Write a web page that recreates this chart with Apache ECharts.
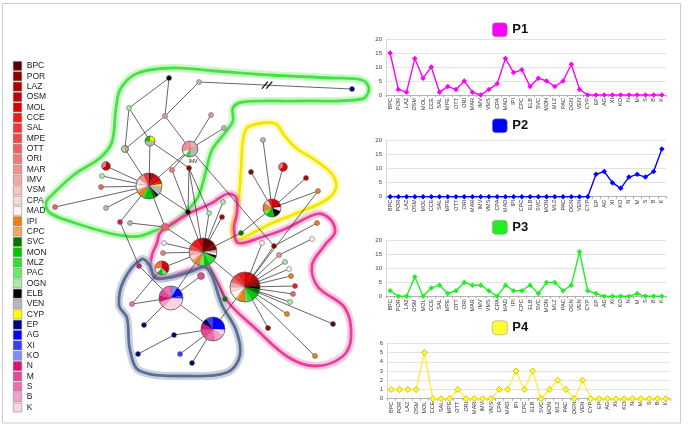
<!DOCTYPE html>
<html><head><meta charset="utf-8">
<script src="https://cdn.jsdelivr.net/npm/echarts@6/dist/echarts.min.js"></script>
<style>html,body{margin:0;padding:0;background:#fff}#c{width:688px;height:431px}</style>
</head><body><div id="c"></div>
<script>
// ---------- DATA ----------
const categories = ['BPC','POR','LAZ','OSM','MOL','CCE','SAL','MPE','OTT','ORI','MAR','IMV','VMS','CPA','MAD','IPI','CPC','ELB','SVC','MON','MLZ','PAC','OGN','VEN','CYP','EP','AG','XI','KO','N','M','S','B','K'];
const legendNames = ['BPC','POR','LAZ','OSM','MOL','CCE','SAL','MPE','OTT','ORI','MAR','IMV','VSM','CPA','MAD','IPI','CPC','SVC','MON','MLZ','PAC','OGN','ELB','VEN','CYP','EP','AG','XI','KO','N','M','S','B','K'];
const p1 = [15,2,1,13,6,10,1,3,2,5,1,0,2,4,13,8,9,3,6,5,3,5,11,2,0,0,0,0,0,0,0,0,0,0];
const p2 = [0,0,0,0,0,0,0,0,0,0,0,0,0,0,0,0,0,0,0,0,0,0,0,0,0,8,9,5,3,7,8,7,9,17];
const p3 = [2,0,0,7,0,3,4,1,2,5,4,4,2,0,4,2,2,4,1,5,5,2,4,16,2,1,0,0,0,0,1,0,0,0];
const p4 = [1,1,1,1,5,0,0,0,1,0,0,0,0,1,1,3,1,3,0,1,2,1,0,2,0,0,0,0,0,0,0,0,0,0];
const ticks14 = [0,5,10,15,20];
const ticks4 = [0,1,2,3,4,5,6];

// network: layout coordinates and haplotype composition (sample counts)
const nodeX = [169,199,352,129,165,211,224,150,190,125,263,283,251,306,318,106,102,101,149,172,189,55,106,188,223,209,222,272,120,130,165,241,317,312,203,164,163,162,139,201,171,132,144,174,138,180,192,213,225,245,262,274,279,285,289,291,295,293,290,287,268,333,315];
const nodeY = [78,82,89,108,116,115,128,141,149,149,140,167,172,178,191,166,176,187,186,170,168,207,208,212,202,213,217,208,222,223,227,233,223,239,252,243,253,268,266,276,298,304,325,335,354,354,363,329,299,287,243,246,255,262,269,276,286,294,302,314,328,324,356];
const nodeMix = [
  [['ELB',1]],[['VEN',1]],[['EP',1]],[['OGN',1]],[['MAR',1]],[['MAR',1]],[['VEN',1]],
  [['CYP',1],['VEN',2],['MON',1]],
  [['IMV',2],['VEN',3],['MLZ',1],['MAD',1],['MAR',3]],
  [['MAR',1],['OGN',1]],
  [['VEN',1]],
  [['MOL',2],['ORI',1]],
  [['POR',1]],[['LAZ',1]],[['IPI',1]],
  [['OSM',2],['ORI',1]],
  [['OGN',1]],[['OTT',1]],
  [['BPC',1],['LAZ',1],['OSM',1],['MOL',2],['CCE',1],['CYP',1],['VEN',3],['ELB',1],['SVC',1],['MON',3],['MLZ',1],['IPI',2],['CPC',1],['MAD',2],['CPA',2],['MAR',2],['SAL',2]],
  [['ORI',1]],[['POR',1]],[['OTT',1]],[['VEN',1]],[['ELB',1]],[['OGN',1]],[['OGN',1]],[['LAZ',1]],
  [['MOL',2],['LAZ',1],['MAD',1],['ELB',2],['MON',2],['PAC',1],['IPI',2],['CPA',1],['CCE',1]],
  [['N',1]],[['VEN',1]],[['OTT',2]],[['SVC',1]],[['IPI',1]],[['MAD',1]],
  [['BPC',5],['POR',2],['VEN',1],['MAD',1],['ELB',1],['MLZ',3],['MON',2],['PAC',2],['IPI',2],['CPC',1],['CPA',2],['IMV',2],['MPE',2],['CCE',3],['MOL',2]],
  [['MAD',1]],[['ORI',1]],
  [['MOL',2],['OSM',1],['PAC',1],['MON',1],['MAD',1],['IPI',1],['OTT',1]],
  [['N',1]],[['M',2]],
  [['KO',2],['AG',3],['XI',1],['K',8],['B',2],['N',2],['M',2],['S',3]],
  [['S',1]],[['EP',1]],[['EP',1]],[['EP',1]],[['XI',1]],[['EP',1]],
  [['AG',6],['K',2],['B',3],['S',3],['M',3],['N',2],['EP',2],['XI',2]],
  [['SVC',1]],
  [['MOL',3],['OSM',2],['LAZ',2],['POR',1],['BPC',1],['ELB',1],['SVC',2],['MON',3],['MLZ',2],['PAC',1],['IPI',3],['CPC',1],['MAD',3],['CPA',2],['IMV',2],['OTT',2],['SAL',2],['CCE',3]],
  [['MAD',1]],[['POR',1]],[['MAR',1]],[['OGN',1]],[['MAD',1]],[['IPI',1]],[['CCE',1]],[['OTT',1]],[['OGN',1]],[['IPI',1]],[['POR',1]],[['BPC',1]],[['IPI',1]]
];
const nodeLabel = {8:'IMV'};
const edges = [[1,2],[0,3],[0,4],[1,4],[3,9],[3,7],[4,9],[4,8],[8,5],[8,6],[9,18],[7,18],[8,18],[7,20],[8,51],[51,49],
  [18,15],[18,16],[18,17],[18,21],[18,22],[18,23],[18,30],[18,28],[28,38],[29,30],[19,23],[19,8],[20,23],[20,25],[20,34],
  [30,34],[34,35],[34,36],[34,37],[34,23],[34,24],[34,25],[34,26],[34,31],[31,27],[34,49],[34,48],[34,40],[39,40],[37,41],[40,41],[38,40],[40,42],[40,47],[44,43],[43,47],[45,47],[46,47],[47,49],
  [27,10],[27,11],[27,12],[27,13],[27,14],[14,49],
  [49,50],[49,52],[49,53],[49,54],[49,55],[49,56],[49,57],[49,58],[49,59],[49,60],[49,61],[49,62],[51,32],[52,33]];
const brokenEdges = [0];
const hullGreen = [[172,68],[215,71],[270,75],[330,78],[362,80],[369,89],[362,99],[300,101],[243,102],[233,108],[233,121],[224,134],[212,150],[205,175],[198,197],[186,212],[172,225],[157,230],[140,236],[125,236],[105,232],[75,223],[50,213],[46,203],[53,194],[75,174],[100,158],[112,142],[116,108],[121,88],[138,73]];
const hullYellow = [[247,128],[262,123],[276,124],[284,135],[296,148],[315,160],[332,174],[336,188],[326,200],[300,212],[270,224],[245,237],[236,240],[232,230],[238,205],[241,170],[243,140]];
const hullPink = [[157,243],[160,233],[173,223],[190,213],[212,203],[227,194],[236,197],[237,213],[234,228],[238,243],[262,237],[285,229],[317,214],[330,219],[335,232],[325,245],[312,265],[318,287],[345,308],[351,338],[342,357],[315,366],[288,357],[255,328],[228,302],[214,275],[207,267],[190,270],[173,276],[160,278],[151,270],[152,255]];
const hullBlue = [[142,259],[150,266],[155,278],[172,277],[190,272],[205,267],[212,276],[222,305],[236,330],[240,355],[228,372],[190,376],[140,371],[130,350],[127,318],[119,305],[124,280]];

// ---------- STYLES ----------
const colors = {BPC:'#600000',POR:'#8b0000',LAZ:'#aa0000',OSM:'#c40000',MOL:'#dc0000',CCE:'#ee1a1a',SAL:'#f03636',MPE:'#f04a4a',OTT:'#f06262',ORI:'#f07a7a',MAR:'#f29292',IMV:'#f5a9a9',VSM:'#f8c3c3',CPA:'#fbd8d8',MAD:'#fef3f3',IPI:'#f07e10',CPC:'#f7a85e',SVC:'#007800',MON:'#00c800',MLZ:'#30e030',PAC:'#66ec66',OGN:'#a4efa4',ELB:'#000000',VEN:'#b8b8b8',CYP:'#ffff00',EP:'#000080',AG:'#0000ff',XI:'#3c3cff',KO:'#8888ff',N:'#e0106e',M:'#e8489a',S:'#f06cb0',B:'#f5a0cb',K:'#fad3e6'};
const hullStyles = [['#48e048','rgba(120,240,110,0.4)'],['#f4e600','rgba(255,245,110,0.5)'],['#ec3c98','rgba(240,140,195,0.45)'],['#5a6e94','rgba(150,165,195,0.5)']];
const hulls = [hullGreen, hullYellow, hullPink, hullBlue];

// ---------- RENDERERS ----------
function renderHull(params, api) {
  const pts = hulls[api.value(2)].map(p => api.coord(p));
  const st = hullStyles[api.value(2)];
  return {type:'group', children:[
    {type:'polygon', shape:{points:pts, smooth:0.35}, style:{fill:'none', stroke:st[1], lineWidth:8}},
    {type:'polygon', shape:{points:pts, smooth:0.35}, style:{fill:'none', stroke:st[0], lineWidth:2.8}}
  ]};
}
function renderEdge(params, api) {
  const a = api.coord([api.value(0), api.value(1)]);
  const b = api.coord([api.value(2), api.value(3)]);
  const ch = [{type:'line', shape:{x1:a[0],y1:a[1],x2:b[0],y2:b[1]}, style:{stroke:'#333', lineWidth:0.75}}];
  if (api.value(4)) {
    const t = 0.445, mx = a[0]+(b[0]-a[0])*t, my = a[1]+(b[1]-a[1])*t;
    [-2.2, 2.2].forEach(d => ch.push({type:'line', shape:{x1:mx+d-3,y1:my+3.5,x2:mx+d+3,y2:my-3.5}, style:{stroke:'#111', lineWidth:1.3}}));
  }
  return {type:'group', children:ch};
}
function renderNode(params, api) {
  const idx = api.value(2);
  const p = api.coord([api.value(0), api.value(1)]);
  const mix = nodeMix[idx];
  const total = mix.reduce((s,m)=>s+m[1],0);
  const r = 2.5*Math.sqrt(total);
  const ch = [];
  if (mix.length === 1) {
    ch.push({type:'circle', shape:{cx:p[0],cy:p[1],r:r}, style:{fill:colors[mix[0][0]], stroke:'#666', lineWidth:0.6}});
  } else {
    let a0 = -Math.PI/2;
    mix.forEach(([k,v]) => {
      const a1 = a0 + v/total*Math.PI*2;
      ch.push({type:'sector', shape:{cx:p[0],cy:p[1],r:r,r0:0,startAngle:a0,endAngle:a1,clockwise:true}, style:{fill:colors[k], stroke:'rgba(70,70,70,0.45)', lineWidth:0.3}});
      a0 = a1;
    });
    ch.push({type:'circle', shape:{cx:p[0],cy:p[1],r:r}, style:{fill:'none', stroke:'#555', lineWidth:0.7}});
  }
  if (nodeLabel[idx]) ch.push({type:'text', x:p[0]+3, y:p[1]+r+2, style:{text:nodeLabel[idx], fontSize:5, fill:'#222', align:'center', verticalAlign:'top', fontFamily:'Liberation Sans'}});
  return {type:'group', children:ch};
}

// ---------- CHART ----------
const lineGrids = [
  {left:386, top:39, width:280, height:56},
  {left:386, top:140.7, width:280, height:56},
  {left:386, top:240.7, width:280, height:55.6},
  {left:387, top:343.3, width:283, height:55.4}
];
const pNames = ['P1','P2','P3','P4'];
const pData = [p1,p2,p3,p4];
const pColors = ['#ff00ff','#0000ff','#22ee22','#ffff33'];
const pTicks = [ticks14,ticks14,ticks14,ticks4];
const legendTops = [22.5,118.5,220,320.5];

const option = {
  animation:false,
  backgroundColor:'#fff',
  graphic:[{type:'rect', shape:{x:2.5,y:3.5,width:678,height:419.5}, style:{fill:'none', stroke:'#c6cbd4', lineWidth:1}, z:100}],
  grid:[{left:0, top:0, width:688, height:431}].concat(lineGrids),
  xAxis:[{gridIndex:0, type:'value', min:0, max:688, show:false}].concat(lineGrids.map((g,i)=>({
    gridIndex:i+1, type:'category', data:categories, boundaryGap:true,
    axisLine:{lineStyle:{color:'#a8a8a8', width:0.8}},
    axisTick:{show:true, length:2, lineStyle:{color:'#a8a8a8'}},
    axisLabel:{rotate:90, interval:0, fontSize:5.5, color:'#333', margin:3, fontFamily:'Liberation Sans'}
  }))),
  yAxis:[{gridIndex:0, type:'value', min:0, max:431, inverse:true, show:false}].concat(lineGrids.map((g,i)=>{
    const t = pTicks[i];
    return {gridIndex:i+1, type:'value', min:t[0], max:t[t.length-1], interval:t[1]-t[0],
      axisLine:{show:true, lineStyle:{color:'#cfcfcf', width:0.8}}, axisTick:{show:false},
      splitLine:{lineStyle:{color:'#dadada', width:0.8}},
      axisLabel:{fontSize:6, color:'#444', margin:4, fontFamily:'Liberation Sans'}};
  })),
  legend:[{
    orient:'vertical', left:13, top:61.2, itemWidth:8.5, itemHeight:9, itemGap:0.85, padding:0,
    selectedMode:false, icon:'rect',
    itemStyle:{borderColor:'#777', borderWidth:0.5, opacity:1},
    textStyle:{fontSize:8.5, lineHeight:9, color:'#222', fontFamily:'Liberation Sans'},
    data:legendNames
  }].concat(pNames.map((n,i)=>({
    left:492, top:legendTops[i], padding:0, itemWidth:15, itemHeight:14, icon:'roundRect', selectedMode:false,
    itemStyle:{borderColor:'#999', borderWidth:0.6},
    textStyle:{fontSize:13, fontWeight:'bold', color:'#111', fontFamily:'Liberation Sans'},
    data:[n]
  }))),
  series:[
    {type:'custom', name:'hulls', xAxisIndex:0, yAxisIndex:0, z:1, silent:true, renderItem:renderHull,
      data:hulls.map((h,i)=>[h[0][0],h[0][1],i])},
    {type:'custom', name:'edges', xAxisIndex:0, yAxisIndex:0, z:2, silent:true, renderItem:renderEdge,
      data:edges.map((e,i)=>[nodeX[e[0]],nodeY[e[0]],nodeX[e[1]],nodeY[e[1]],brokenEdges.includes(i)?1:0])},
    {type:'custom', name:'nodes', xAxisIndex:0, yAxisIndex:0, z:3, silent:true, renderItem:renderNode,
      data:nodeX.map((x,i)=>[x,nodeY[i],i])}
  ].concat(legendNames.map(n=>({type:'scatter', name:n, xAxisIndex:0, yAxisIndex:0, data:[], itemStyle:{color:colors[n], opacity:1}})))
   .concat(pNames.map((n,i)=>({
    type:'line', name:n, xAxisIndex:i+1, yAxisIndex:i+1, data:pData[i],
    symbol:'diamond', symbolSize:i===3?6:5.5,
    lineStyle:{width:1.4, color:i===3?'#ffee44':pColors[i]},
    itemStyle:i===3?{color:'#ffff33', borderColor:'#d8a400', borderWidth:0.8}:{color:pColors[i]}
  })))
};
const chart = echarts.init(document.getElementById('c'), null, {renderer:'canvas'});
chart.setOption(option);
</script></body></html>
